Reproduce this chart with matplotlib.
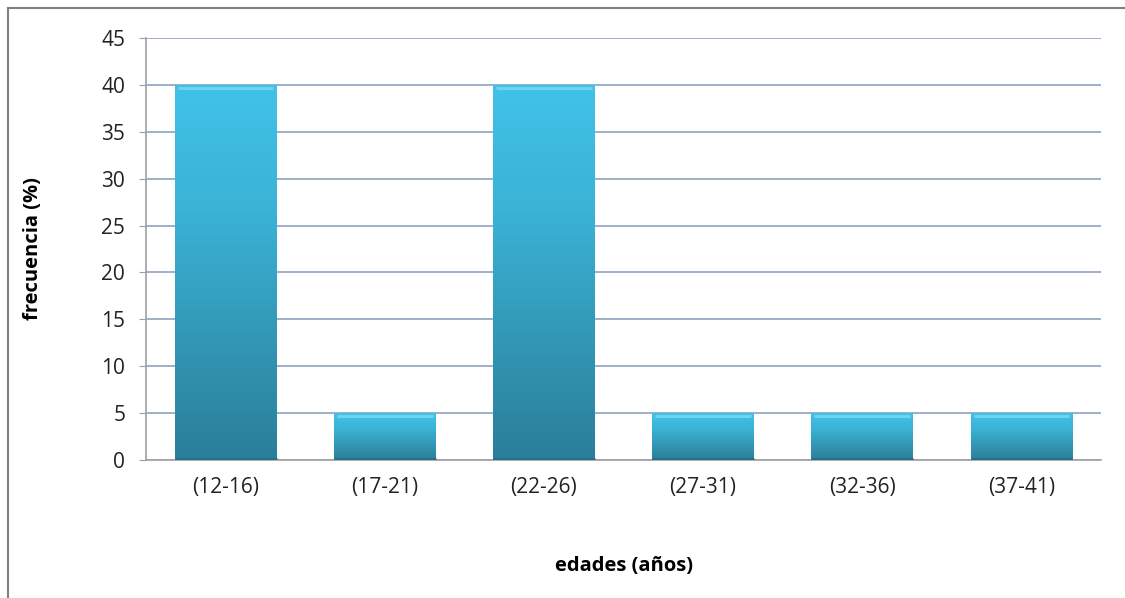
import numpy as np
import matplotlib
matplotlib.use("Agg")
import matplotlib.pyplot as plt
from matplotlib.colors import LinearSegmentedColormap
from matplotlib.lines import Line2D

categories = ["(12-16)", "(17-21)", "(22-26)", "(27-31)", "(32-36)", "(37-41)"]
values = [40, 5, 40, 5, 5, 5]
yticks = [0, 5, 10, 15, 20, 25, 30, 35, 40, 45]

plt.rcParams["font.family"] = ["Open Sans", "DejaVu Sans"]

fig = plt.figure(figsize=(11.25, 5.98), dpi=100)
ax = fig.add_axes([0.1298, 0.2308, 0.8489, 0.7057])

x = np.arange(len(categories))
bars = ax.bar(x, values, width=0.64, color="#37AED0", zorder=2)

# vertical gradient inside each bar (light on top, darker at the bottom)
cmap = LinearSegmentedColormap.from_list("barfill", ["#2A7F99", "#3398B6", "#3AB3D6", "#42C2E8"])
grad = np.linspace(0, 1, 256).reshape(-1, 1)
for b in bars:
    x0, w, h = b.get_x(), b.get_width(), b.get_height()
    im = ax.imshow(grad, cmap=cmap, origin="lower", aspect="auto",
                   extent=[x0, x0 + w, 0, h], zorder=3)
    im.set_clip_path(b)
    # bevel highlight along the top, dark edge at the bottom
    ax.plot([x0 + w * 0.03, x0 + w * 0.97], [h - 0.35, h - 0.35], color="#6FD6F2", lw=2, zorder=4,
            solid_capstyle="butt")
    ax.plot([x0, x0 + w], [0.08, 0.08], color="#25708A", lw=2, zorder=4, solid_capstyle="butt")

ax.set_xlim(-0.5, len(categories) - 0.5)
ax.set_ylim(0, 45)
ax.set_yticks(yticks)
ax.set_xticks(x)
ax.set_xticklabels(categories, fontsize=15, color="#222222")
ax.tick_params(axis="y", labelsize=15, colors="#222222", length=5, color="#A0A0A0", pad=10)
ax.tick_params(axis="x", length=0, pad=12)

ax.grid(axis="y", color="#8EA2C0", lw=1.2, zorder=0)
ax.set_axisbelow(True)
for s in ["top", "right"]:
    ax.spines[s].set_visible(False)
ax.spines["left"].set_color("#A0A0A0")
ax.spines["bottom"].set_color("#A0A0A0")
ax.spines["left"].set_linewidth(1.2)
ax.spines["bottom"].set_linewidth(1.2)

ax.set_ylabel("frecuencia (%)", fontsize=14.5, fontweight="bold", labelpad=42)
ax.set_xlabel("edades (años)", fontsize=14.5, fontweight="bold", labelpad=42)

# frame lines of the chart area (top and left only visible)
fig.add_artist(Line2D([8 / 1125, 1], [1 - 8 / 598, 1 - 8 / 598], color="#7F7F7F", lw=1.5))
fig.add_artist(Line2D([8 / 1125, 8 / 1125], [0, 1 - 8 / 598], color="#7F7F7F", lw=1.5))

fig.savefig("out.png", dpi=100)
